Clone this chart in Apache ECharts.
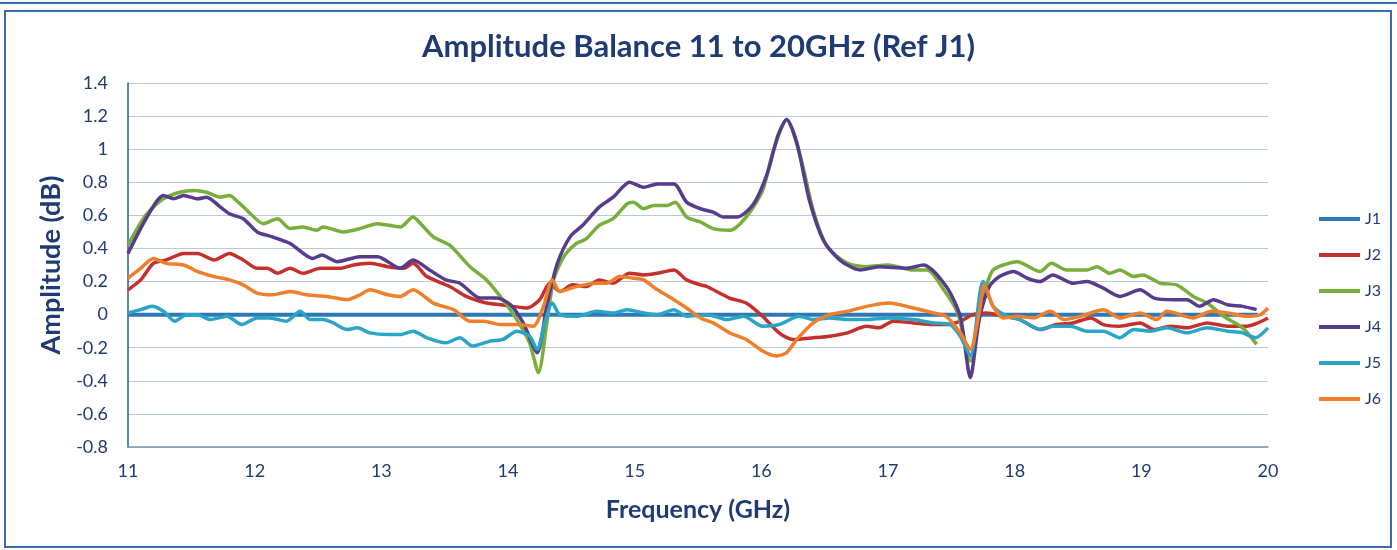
<!DOCTYPE html>
<html>
<head>
<meta charset="utf-8">
<script src="https://cdn.jsdelivr.net/npm/echarts@6/dist/echarts.min.js"></script>
<style>
html,body{margin:0;padding:0;background:#fff;}
#c{width:1397px;height:550px;}
</style>
</head>
<body>
<div id="c"></div>
<script>
const seriesNames = ['J1','J2','J3','J4','J5','J6'];
const seriesColors = ['#2E78B4','#C3302E','#78AE3A','#553C8C','#2AA5C6','#EF7F2B'];
const yTicks = [-0.8,-0.6,-0.4,-0.2,0,0.2,0.4,0.6,0.8,1,1.2,1.4];
const xTicks = [11,12,13,14,15,16,17,18,19,20];

const j1Freq = [11.00, 19.92];
const j1Amp  = [0, 0];

const j2Freq = [11.00,11.10,11.20,11.30,11.44,11.55,11.68,11.80,11.91,12.02,12.10,12.18,12.28,12.38,12.52,12.68,12.78,12.91,13.05,13.18,13.25,13.36,13.54,13.67,13.83,13.94,14.04,14.15,14.25,14.33,14.41,14.51,14.62,14.72,14.83,14.96,15.07,15.18,15.31,15.41,15.52,15.57,15.75,15.88,16.01,16.14,16.25,16.41,16.54,16.68,16.83,16.93,17.04,17.20,17.36,17.46,17.57,17.67,17.78,17.91,18.04,18.20,18.33,18.46,18.60,18.70,18.83,18.99,19.10,19.23,19.36,19.52,19.68,19.83,19.92,20.00];
const j2Amp  = [0.15,0.21,0.31,0.33,0.37,0.37,0.33,0.37,0.33,0.28,0.28,0.25,0.28,0.25,0.28,0.28,0.30,0.31,0.29,0.28,0.31,0.23,0.17,0.11,0.07,0.06,0.05,0.04,0.09,0.19,0.14,0.18,0.17,0.21,0.19,0.25,0.24,0.25,0.27,0.21,0.18,0.17,0.10,0.07,-0.01,-0.11,-0.15,-0.14,-0.13,-0.11,-0.07,-0.08,-0.04,-0.05,-0.06,-0.06,-0.04,0.00,0.01,-0.01,-0.03,-0.09,-0.06,-0.05,-0.02,-0.06,-0.07,-0.05,-0.09,-0.07,-0.08,-0.05,-0.07,-0.07,-0.05,-0.02];

const j3Freq = [11.00,11.08,11.15,11.28,11.41,11.52,11.62,11.73,11.80,11.87,11.94,12.07,12.18,12.28,12.38,12.49,12.54,12.70,12.83,12.97,13.15,13.25,13.31,13.41,13.54,13.70,13.83,13.96,14.07,14.17,14.24,14.31,14.36,14.44,14.54,14.62,14.72,14.83,14.94,14.99,15.07,15.15,15.26,15.32,15.41,15.52,15.62,15.75,15.88,16.01,16.09,16.20,16.31,16.41,16.52,16.68,16.83,17.00,17.20,17.31,17.44,17.55,17.65,17.72,17.78,17.83,17.91,18.02,18.20,18.29,18.41,18.57,18.65,18.75,18.83,18.94,19.01,19.15,19.28,19.41,19.52,19.65,19.80,19.91];
const j3Amp  = [0.42,0.53,0.61,0.70,0.74,0.75,0.74,0.71,0.72,0.68,0.63,0.55,0.58,0.52,0.53,0.51,0.53,0.50,0.52,0.55,0.53,0.59,0.55,0.47,0.42,0.29,0.21,0.09,-0.03,-0.17,-0.35,-0.03,0.21,0.35,0.43,0.46,0.54,0.58,0.67,0.68,0.64,0.66,0.66,0.68,0.59,0.56,0.52,0.51,0.59,0.75,0.98,1.18,0.95,0.63,0.41,0.31,0.29,0.30,0.27,0.27,0.15,0.01,-0.28,-0.02,0.18,0.27,0.30,0.32,0.26,0.31,0.27,0.27,0.29,0.25,0.27,0.23,0.24,0.19,0.18,0.11,0.07,-0.01,-0.08,-0.18];

const j4Freq = [11.00,11.15,11.28,11.36,11.44,11.55,11.62,11.73,11.80,11.91,12.02,12.14,12.28,12.46,12.53,12.65,12.83,12.97,13.15,13.25,13.38,13.51,13.62,13.78,13.91,14.02,14.12,14.23,14.31,14.39,14.49,14.59,14.72,14.83,14.96,15.07,15.18,15.31,15.41,15.52,15.62,15.70,15.81,15.94,16.05,16.13,16.20,16.28,16.38,16.49,16.62,16.78,16.93,17.15,17.28,17.46,17.57,17.65,17.72,17.80,17.88,17.99,18.10,18.20,18.30,18.46,18.57,18.70,18.83,18.99,19.10,19.25,19.36,19.46,19.57,19.68,19.80,19.91];
const j4Amp  = [0.37,0.59,0.72,0.70,0.72,0.70,0.71,0.65,0.61,0.58,0.50,0.47,0.43,0.34,0.36,0.32,0.35,0.35,0.28,0.33,0.27,0.21,0.19,0.10,0.10,0.06,-0.05,-0.23,0.07,0.31,0.47,0.54,0.65,0.71,0.80,0.77,0.79,0.79,0.68,0.64,0.62,0.59,0.59,0.67,0.86,1.08,1.18,1.04,0.69,0.45,0.33,0.27,0.29,0.28,0.30,0.17,-0.01,-0.38,-0.03,0.17,0.23,0.26,0.22,0.20,0.24,0.19,0.20,0.16,0.11,0.15,0.10,0.09,0.09,0.05,0.09,0.06,0.05,0.03];

const j5Freq = [11.00,11.10,11.19,11.28,11.37,11.46,11.55,11.65,11.78,11.90,12.02,12.12,12.25,12.36,12.44,12.54,12.62,12.73,12.81,12.91,13.05,13.15,13.25,13.36,13.51,13.62,13.72,13.86,13.96,14.07,14.17,14.23,14.29,14.35,14.41,14.54,14.70,14.83,14.94,15.07,15.18,15.31,15.41,15.57,15.73,15.86,16.01,16.14,16.30,16.41,16.54,16.68,16.83,17.00,17.20,17.36,17.49,17.57,17.65,17.75,17.83,17.94,18.04,18.20,18.30,18.44,18.57,18.70,18.83,18.94,19.07,19.20,19.36,19.52,19.68,19.80,19.90,20.00];
const j5Amp  = [0.01,0.03,0.05,0.02,-0.04,0.00,0.00,-0.03,-0.01,-0.06,-0.02,-0.02,-0.04,0.02,-0.03,-0.03,-0.05,-0.09,-0.08,-0.11,-0.12,-0.12,-0.10,-0.14,-0.17,-0.14,-0.19,-0.16,-0.15,-0.10,-0.13,-0.21,-0.05,0.07,0.00,-0.01,0.02,0.01,0.03,0.01,0.00,0.03,-0.01,0.00,-0.03,-0.01,-0.07,-0.06,-0.01,-0.03,-0.02,-0.03,-0.03,-0.02,-0.03,-0.05,-0.06,-0.13,-0.25,0.20,0.05,-0.01,-0.03,-0.09,-0.07,-0.07,-0.10,-0.10,-0.14,-0.09,-0.10,-0.08,-0.11,-0.08,-0.10,-0.11,-0.14,-0.08];

const j6Freq = [11.00,11.10,11.20,11.30,11.44,11.55,11.68,11.80,11.91,12.02,12.14,12.28,12.41,12.57,12.73,12.83,12.91,13.05,13.15,13.25,13.41,13.57,13.70,13.81,13.94,14.07,14.20,14.28,14.35,14.41,14.54,14.70,14.78,14.88,14.99,15.07,15.18,15.31,15.41,15.52,15.62,15.75,15.88,16.01,16.12,16.20,16.28,16.41,16.54,16.68,16.83,17.01,17.20,17.36,17.46,17.57,17.65,17.72,17.76,17.83,17.91,18.02,18.15,18.28,18.39,18.52,18.70,18.83,18.99,19.12,19.20,19.41,19.55,19.68,19.83,19.94,20.00];
const j6Amp  = [0.22,0.28,0.34,0.31,0.30,0.26,0.23,0.21,0.18,0.13,0.12,0.14,0.12,0.11,0.09,0.12,0.15,0.12,0.11,0.15,0.07,0.03,-0.04,-0.04,-0.06,-0.06,-0.07,0.05,0.21,0.14,0.17,0.19,0.19,0.23,0.22,0.21,0.15,0.09,0.04,-0.02,-0.05,-0.11,-0.15,-0.22,-0.25,-0.23,-0.15,-0.05,0.00,0.02,0.05,0.07,0.04,0.01,-0.01,-0.11,-0.21,0.01,0.18,0.05,-0.02,-0.01,-0.02,0.02,-0.03,-0.01,0.03,-0.02,0.01,-0.03,0.02,-0.02,0.02,0.01,-0.01,0.00,0.04];

const freqs = [j1Freq,j2Freq,j3Freq,j4Freq,j5Freq,j6Freq];
const amps  = [j1Amp,j2Amp,j3Amp,j4Amp,j5Amp,j6Amp];

const navy = '#1F3B73';
const font = 'Lato';

const chart = echarts.init(document.getElementById('c'), null, {renderer:'canvas'});
chart.setOption({
  backgroundColor:'#ffffff',
  animation:false,
  title:{
    text:'Amplitude Balance 11 to 20GHz (Ref J1)',
    left:'center', top:26,
    textStyle:{fontFamily:font, fontSize:31, fontWeight:'bold', color:navy}
  },
  grid:{left:128, right:129, top:83, bottom:103, containLabel:false},
  xAxis:{
    type:'value', min:xTicks[0], max:xTicks[xTicks.length-1], interval:1,
    name:'Frequency (GHz)', nameLocation:'middle', nameGap:50,
    nameTextStyle:{fontFamily:font, fontSize:25, fontWeight:'bold', color:navy},
    axisLine:{show:true, onZero:false, lineStyle:{color:'#7F97B2', width:1.5}},
    axisTick:{show:false},
    axisLabel:{fontFamily:font, fontSize:18, color:navy, margin:15},
    splitLine:{show:false}
  },
  yAxis:{
    type:'value', min:yTicks[0], max:yTicks[yTicks.length-1], interval:0.2,
    name:'Amplitude (dB)', nameLocation:'middle', nameGap:58,
    nameTextStyle:{fontFamily:font, fontSize:27, fontWeight:'bold', color:navy},
    axisLine:{show:true, onZero:false, lineStyle:{color:'#2B5C9A', width:1.5}},
    axisTick:{show:false},
    axisLabel:{fontFamily:font, fontSize:18, color:navy, margin:20,
      formatter:(v)=>String(Math.round(v*10)/10)},
    splitLine:{show:true, lineStyle:{color:'#B9CADB', width:1.2}}
  },
  legend:{
    orient:'vertical', left:1314, top:206,
    itemWidth:41, itemHeight:4, itemGap:20, icon:'rect',
    textStyle:{fontFamily:font, fontSize:16, color:navy, lineHeight:16},
    data:seriesNames
  },
  graphic:[
    {type:'rect', shape:{x:5, y:11, width:1386, height:536}, style:{fill:'none', stroke:'#3A6CA8', lineWidth:2}, z:100},
    {type:'line', shape:{x1:0, y1:3, x2:1397, y2:3}, style:{stroke:'#3A6CA8', lineWidth:2}, z:100}
  ],
  series: seriesNames.map((n,i)=>({
    name:n, type:'line', showSymbol:false, symbol:'none', smooth:0.25,
    color:seriesColors[i],
    lineStyle:{width: i===0 ? 4 : 3.5, color:seriesColors[i]},
    data: freqs[i].map((f,k)=>[f, amps[i][k]])
  }))
});
</script>
</body>
</html>
